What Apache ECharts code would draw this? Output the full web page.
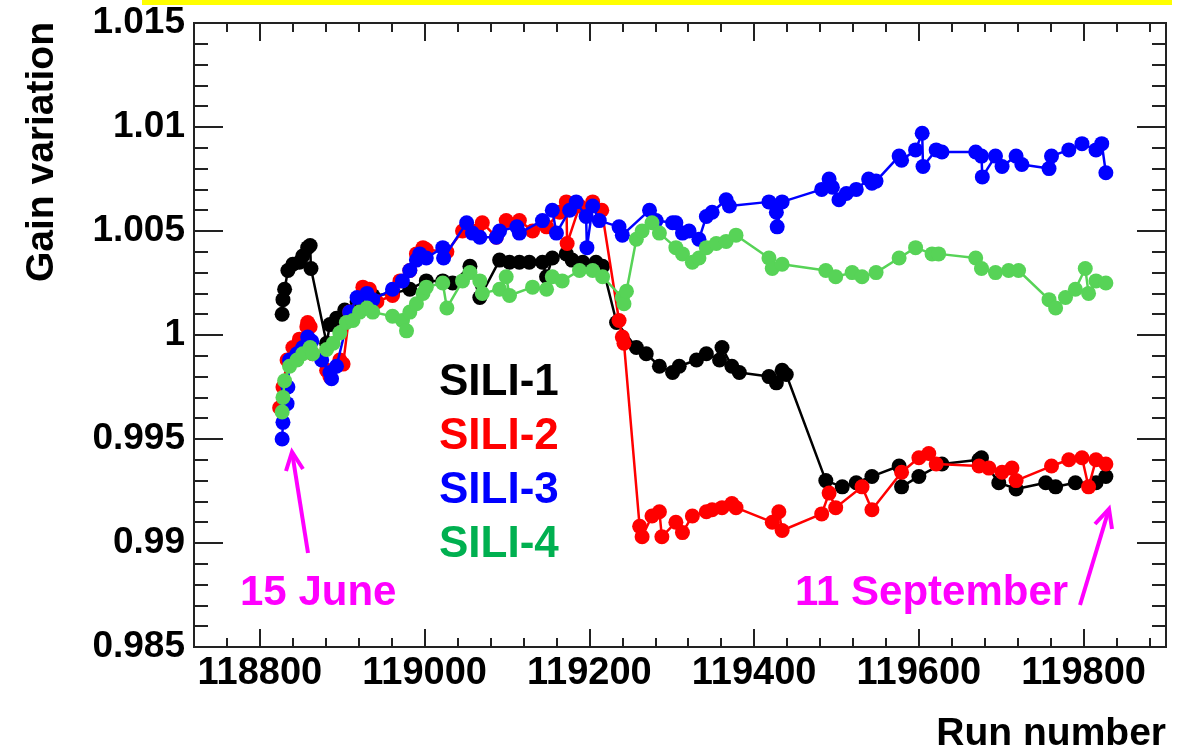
<!DOCTYPE html>
<html>
<head>
<meta charset="utf-8">
<script src="https://cdn.jsdelivr.net/npm/echarts@6/dist/echarts.min.js"></script>
<style>
html, body { margin: 0; padding: 0; background: #fff; }
#chart { width: 1186px; height: 753px; }
</style>
</head>
<body>
<div id="chart"></div>
<script>
// tick labels
const majorRuns = [118800, 119000, 119200, 119400, 119600, 119800];
const majorGains = [0.985, 0.99, 0.995, 1, 1.005, 1.01, 1.015];
const seriesNames = ['SILI-1', 'SILI-2', 'SILI-3', 'SILI-4'];

// SILI-1
const runs1 = [118827, 118828, 118830, 118834, 118840, 118848, 118852, 118858, 118861, 118862,
  118881, 118885, 118893, 118903, 118918, 118937, 118961, 118982, 119002, 119022,
  119034, 119055, 119067, 119091, 119103, 119115, 119127, 119143, 119148, 119155,
  119172, 119179, 119192, 119208, 119216, 119233, 119257, 119269, 119285, 119301,
  119309, 119330, 119342, 119358, 119361, 119373, 119382, 119418, 119427, 119434,
  119439, 119487, 119507, 119524, 119543, 119576, 119579, 119600, 119628, 119673,
  119676, 119697, 119718, 119754, 119766, 119790, 119815, 119827];
const gain1 = [1.0010, 1.0017, 1.0022, 1.0031, 1.0034, 1.0035, 1.0038, 1.0042, 1.0043, 1.0032,
  0.9996, 1.0005, 1.0008, 1.0012, 1.0016, 1.0019, 1.0020, 1.0022, 1.0026, 1.0026,
  1.0025, 1.0033, 1.0018, 1.0036, 1.0035, 1.0035, 1.0035, 1.0035, 1.0028, 1.0037,
  1.0039, 1.0036, 1.0035, 1.0035, 1.0033, 1.0006, 0.9994, 0.9991, 0.9985, 0.9982,
  0.9985, 0.9988, 0.9991, 0.9988, 0.9994, 0.9985, 0.9982, 0.9980, 0.9977, 0.9983,
  0.9981, 0.9930, 0.9927, 0.9929, 0.9932, 0.9937, 0.9927, 0.9932, 0.9938, 0.9940,
  0.9941, 0.9929, 0.9926, 0.9929, 0.9927, 0.9929, 0.9929, 0.9932];

// SILI-2
const runs2 = [118824, 118828, 118833, 118840, 118848, 118857, 118858, 118861, 118864, 118881,
  118885, 118897, 118901, 118909, 118925, 118933, 118942, 118961, 118970, 118982,
  118990, 118998, 119002, 119027, 119046, 119063, 119070, 119087, 119099, 119115,
  119131, 119148, 119164, 119172, 119173, 119188, 119204, 119215, 119236, 119240,
  119242, 119261, 119264, 119276, 119285, 119288, 119305, 119313, 119325, 119342,
  119349, 119361, 119373, 119378, 119422, 119430, 119434, 119482, 119491, 119499,
  119531, 119543, 119579, 119600, 119612, 119621, 119673, 119685, 119701, 119713,
  119718, 119761, 119782, 119798, 119806, 119815, 119827];
const gain2 = [0.9965, 0.9975, 0.9988, 0.9994, 0.9998, 1.0004, 1.0006, 1.0004, 0.9991, 0.9983,
  0.9980, 0.9988, 0.9986, 1.0011, 1.0023, 1.0022, 1.0016, 1.0019, 1.0026, 1.0031,
  1.0039, 1.0042, 1.0041, 1.0040, 1.0050, 1.0050, 1.0054, 1.0047, 1.0055, 1.0055,
  1.0050, 1.0052, 1.0059, 1.0064, 1.0044, 1.0062, 1.0064, 1.0060, 1.0007, 0.9999,
  0.9996, 0.9908, 0.9903, 0.9913, 0.9915, 0.9903, 0.9910, 0.9905, 0.9913, 0.9915,
  0.9916, 0.9917, 0.9919, 0.9917, 0.9910, 0.9915, 0.9906, 0.9914, 0.9924, 0.9917,
  0.9927, 0.9916, 0.9934, 0.9941, 0.9943, 0.9938, 0.9937, 0.9936, 0.9934, 0.9936,
  0.9930, 0.9937, 0.9940, 0.9941, 0.9927, 0.9940, 0.9938];

// SILI-3
const runs3 = [118827, 118828, 118833, 118834, 118836, 118845, 118852, 118858, 118863, 118875,
  118885, 118887, 118893, 118909, 118918, 118930, 118937, 118961, 118973, 118982,
  118990, 118994, 119002, 119022, 119023, 119051, 119058, 119067, 119087, 119091,
  119112, 119115, 119143, 119155, 119160, 119176, 119184, 119196, 119197, 119204,
  119212, 119236, 119240, 119273, 119281, 119301, 119305, 119313, 119321, 119333,
  119342, 119349, 119366, 119370, 119418, 119427, 119428, 119434, 119482, 119491,
  119495, 119503, 119512, 119524, 119539, 119543, 119548, 119576, 119579, 119596,
  119604, 119605, 119621, 119628, 119669, 119676, 119677, 119693, 119701, 119718,
  119725, 119758, 119761, 119782, 119798, 119815, 119822, 119827];
const gain3 = [0.9950, 0.9958, 0.9967, 0.9975, 0.9988, 0.9991, 0.9994, 0.9999, 0.9997, 0.9988,
  0.9982, 0.9979, 0.9985, 1.0011, 1.0018, 1.0020, 1.0017, 1.0022, 1.0026, 1.0031,
  1.0036, 1.0039, 1.0037, 1.0042, 1.0037, 1.0054, 1.0049, 1.0047, 1.0047, 1.0050,
  1.0052, 1.0049, 1.0055, 1.0060, 1.0049, 1.0060, 1.0064, 1.0057, 1.0042, 1.0062,
  1.0055, 1.0052, 1.0048, 1.0060, 1.0055, 1.0054, 1.0054, 1.0049, 1.0050, 1.0046,
  1.0057, 1.0059, 1.0065, 1.0062, 1.0064, 1.0059, 1.0052, 1.0064, 1.0070, 1.0075,
  1.0071, 1.0065, 1.0068, 1.0070, 1.0075, 1.0073, 1.0074, 1.0086, 1.0084, 1.0089,
  1.0097, 1.0081, 1.0089, 1.0088, 1.0088, 1.0086, 1.0076, 1.0086, 1.0081, 1.0086,
  1.0082, 1.0080, 1.0086, 1.0089, 1.0092, 1.0089, 1.0092, 1.0078];

// SILI-4
const runs4 = [118827, 118828, 118830, 118836, 118845, 118852, 118861, 118864, 118881, 118889,
  118897, 118905, 118913, 118921, 118930, 118937, 118961, 118973, 118978, 118982,
  118990, 118998, 119002, 119022, 119027, 119046, 119055, 119067, 119070, 119091,
  119099, 119103, 119131, 119148, 119155, 119167, 119188, 119204, 119216, 119240,
  119242, 119245, 119257, 119264, 119276, 119285, 119305, 119313, 119325, 119333,
  119342, 119354, 119366, 119378, 119418, 119422, 119434, 119487, 119499, 119519,
  119531, 119548, 119576, 119596, 119616, 119624, 119669, 119676, 119693, 119709,
  119721, 119758, 119766, 119778, 119790, 119802, 119806, 119815, 119827];
const gain4 = [0.9963, 0.9970, 0.9978, 0.9985, 0.9988, 0.9991, 0.9994, 0.9991, 0.9993, 0.9996,
  1.0001, 1.0006, 1.0007, 1.0011, 1.0013, 1.0011, 1.0009, 1.0007, 1.0002, 1.0011,
  1.0015, 1.0020, 1.0023, 1.0025, 1.0013, 1.0026, 1.0030, 1.0026, 1.0020, 1.0022,
  1.0028, 1.0019, 1.0023, 1.0022, 1.0028, 1.0026, 1.0031, 1.0031, 1.0028, 1.0018,
  1.0015, 1.0021, 1.0046, 1.0050, 1.0054, 1.0049, 1.0042, 1.0039, 1.0035, 1.0037,
  1.0042, 1.0044, 1.0045, 1.0048, 1.0037, 1.0032, 1.0034, 1.0031, 1.0028, 1.0030,
  1.0028, 1.0030, 1.0037, 1.0042, 1.0039, 1.0039, 1.0037, 1.0032, 1.0030, 1.0031,
  1.0031, 1.0017, 1.0013, 1.0018, 1.0022, 1.0032, 1.0020, 1.0026, 1.0025];

const colors = ['#000000', '#ff0000', '#0000ff', '#57d357'];
const textColors = ['#000000', '#ff0000', '#0000ff', '#00b050'];
const FONT = '"Liberation Sans", Arial, Helvetica, sans-serif';
const FRAME = '#222222';

const allRuns = [runs1, runs2, runs3, runs4];
const allGains = [gain1, gain2, gain3, gain4];

const chart = echarts.init(document.getElementById('chart'), null, { renderer: 'canvas' });

function xAxisDef(pos, major) {
  const ax = {
    type: 'value', position: pos, min: 118720, max: 119900,
    axisLine: { show: true, onZero: false, lineStyle: { color: FRAME, width: 2 } },
    splitLine: { show: false },
    axisTick: { show: true, inside: true, length: major ? 18 : 9, lineStyle: { color: FRAME, width: 2 } },
    axisLabel: { show: false }
  };
  if (major) {
    ax.axisTick.customValues = majorRuns;
    if (pos === 'bottom') {
      ax.axisLabel = {
        show: true, customValues: majorRuns, margin: 8,
        formatter: v => String(v),
        fontFamily: FONT, fontWeight: 'bold', fontSize: 38, color: '#000'
      };
    }
  } else {
    ax.interval = 40;
  }
  return ax;
}

function yAxisDef(pos, major) {
  const ax = {
    type: 'value', position: pos, min: 0.985, max: 1.015,
    axisLine: { show: true, onZero: false, lineStyle: { color: FRAME, width: 2 } },
    splitLine: { show: false },
    axisTick: { show: true, inside: true, length: major ? 29 : 14, lineStyle: { color: FRAME, width: 2 } },
    axisLabel: { show: false }
  };
  if (major) {
    ax.axisTick.customValues = majorGains;
    if (pos === 'left') {
      ax.axisLabel = {
        show: true, customValues: majorGains, margin: 9,
        formatter: v => String(+v.toFixed(3)),
        fontFamily: FONT, fontWeight: 'bold', fontSize: 37, color: '#000'
      };
    }
  } else {
    ax.interval = 0.001;
  }
  return ax;
}

const series = seriesNames.map((name, i) => ({
  name: name,
  type: 'line',
  xAxisIndex: 0,
  yAxisIndex: 0,
  data: allRuns[i].map((r, k) => [r, allGains[i][k]]),
  symbol: 'circle',
  symbolSize: 15,
  showAllSymbol: true,
  itemStyle: { color: colors[i] },
  lineStyle: { color: colors[i], width: 2.5 },
  animation: false,
  z: 2 + i
}));

function arrow(tail, tip, a, b) {
  return [
    { type: 'polyline', shape: { points: [tail, tip] }, style: { stroke: '#ff00ff', lineWidth: 4, fill: null } },
    { type: 'polyline', shape: { points: [a, tip, b] }, style: { stroke: '#ff00ff', lineWidth: 4, fill: null } }
  ];
}

const labelStyle = (text, x, y, color, size, align) => ({
  type: 'text', x: x, y: y,
  style: { text: text, fill: color, font: 'bold ' + size + 'px ' + FONT, align: align || 'left', verticalAlign: 'middle' }
});

const graphics = [
  { type: 'rect', shape: { x: 142, y: 0, width: 1030, height: 5 }, style: { fill: '#ffff00' } },
  {
    type: 'text', x: 42, y: 22, rotation: Math.PI / 2,
    style: { text: 'Gain variation', fill: '#000', font: 'bold 39px ' + FONT, align: 'right', verticalAlign: 'middle' }
  },
  labelStyle('Run number', 1166, 734, '#000', 39, 'right'),
  labelStyle('15 June', 240, 593, '#ff00ff', 42),
  labelStyle('11 September', 795, 593, '#ff00ff', 42)
];
seriesNames.forEach((n, i) => graphics.push(labelStyle(n, 439, 383 + i * 54, textColors[i], 44)));
graphics.push(...arrow([308, 553], [292, 452], [286, 471], [303, 469]));
graphics.push(...arrow([1080, 605], [1109, 509], [1095, 524], [1112, 529]));

chart.setOption({
  animation: false,
  backgroundColor: '#ffffff',
  grid: { left: 194, right: 20, top: 23, bottom: 106, containLabel: false },
  xAxis: [xAxisDef('bottom', false), xAxisDef('bottom', true), xAxisDef('top', false), xAxisDef('top', true)],
  yAxis: [yAxisDef('left', false), yAxisDef('left', true), yAxisDef('right', false), yAxisDef('right', true)],
  series: series,
  graphic: graphics
});
</script>
</body>
</html>
